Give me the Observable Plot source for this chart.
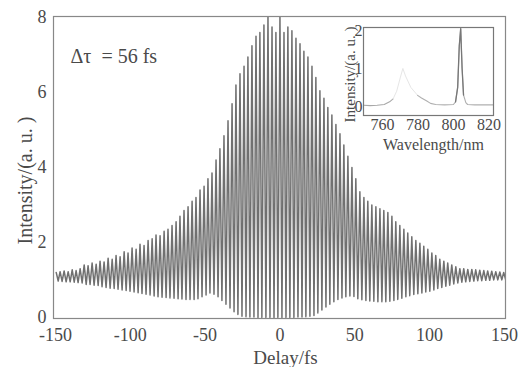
<!DOCTYPE html>
<html>
<head>
<meta charset="utf-8">
<script src="https://cdn.jsdelivr.net/npm/d3@7"></script>
<script src="https://cdn.jsdelivr.net/npm/@observablehq/plot@0.6"></script>
<style>
  body { margin: 0; background: #fff; }
  #wrap { position: relative; width: 525px; height: 367px; }
  #inset { position: absolute; left: 335px; top: 8px; }
</style>
</head>
<body>
<div id="wrap"><div id="main"></div><div id="inset"></div></div>
<script>
// ---- main trace: fringe peak delays (fs), peak (upper) and trough (lower) intensities
const fringeDelay = [-149.5,-146.9,-144.2,-141.5,-138.8,-136.2,-133.5,-130.8,-128.2,-125.5,-122.8,-120.2,-117.5,-114.8,-112.1,-109.5,-106.8,-104.1,-101.5,-98.8,-96.1,-93.5,-90.8,-88.1,-85.4,-82.8,-80.1,-77.4,-74.8,-72.1,-69.4,-66.8,-64.1,-61.4,-58.7,-56.1,-53.4,-50.7,-48.1,-45.4,-42.7,-40.1,-37.4,-34.7,-32.0,-29.4,-26.7,-24.0,-21.4,-18.7,-16.0,-13.4,-10.7,-8.0,-5.3,-2.7,
  0,
  2.7,5.3,8.0,10.7,13.4,16.0,18.7,21.4,24.0,26.7,29.4,32.0,34.7,37.4,40.1,42.7,45.4,48.1,50.7,53.4,56.1,58.7,61.4,64.1,66.8,69.4,72.1,74.8,77.4,80.1,82.8,85.4,88.1,90.8,93.5,96.1,98.8,101.5,104.1,106.8,109.5,112.1,114.8,117.5,120.2,122.8,125.5,128.2,130.8,133.5,136.2,138.8,141.5,144.2,146.9,149.5];
const fringeUpper = [1.20,1.22,1.24,1.22,1.27,1.25,1.30,1.40,1.38,1.45,1.42,1.50,1.48,1.58,1.55,1.65,1.62,1.75,1.72,1.85,1.82,1.95,1.92,2.05,2.10,2.20,2.18,2.30,2.35,2.45,2.55,2.70,2.85,2.95,3.10,3.20,3.40,3.50,3.70,3.85,4.20,4.50,4.85,5.25,5.70,6.20,6.50,6.70,6.95,7.25,7.50,7.60,7.80,8.05,7.75,7.60,
  8.05,
  7.60,7.75,7.65,7.45,7.30,7.10,6.95,6.70,6.40,6.05,5.85,5.60,5.40,5.15,4.90,4.60,4.30,4.00,3.70,3.35,3.20,3.10,3.00,2.95,2.90,2.85,2.80,2.70,2.55,2.45,2.35,2.25,2.15,2.05,1.98,1.90,1.82,1.72,1.65,1.55,1.50,1.45,1.40,1.35,1.30,1.30,1.28,1.28,1.27,1.26,1.25,1.24,1.23,1.22,1.21,1.20];
const fringeLower = [0.97,0.96,0.95,0.95,0.94,0.93,0.92,
  0.88,0.88,0.86,0.85,0.82,0.80,0.78,0.77,0.75,0.73,0.72,0.70,
  0.68,0.66,0.64,0.62,0.60,0.57,0.55,0.54,0.53,0.52,0.51,0.50,0.49,0.48,
  0.48,0.48,0.50,0.55,0.60,0.65,0.62,0.55,0.45,0.35,0.25,0.15,0.08,0.03,
  0.02,0.01,0.01,0,0,0,0,0,0,0,0,0,0,0.01,0.01,0.02,0.03,
  0.05,0.12,0.20,0.28,0.35,0.42,0.48,0.52,0.55,0.57,
  0.56,0.50,0.47,0.45,0.44,0.43,0.42,0.42,0.42,0.43,
  0.45,0.48,0.51,0.55,0.58,0.61,0.63,0.65,0.68,0.70,
  0.73,0.77,0.80,0.83,0.86,0.89,0.92,0.94,0.95,0.96,
  0.97,0.98,0.98,0.99,0.99,1.00,1.00,1.00,1.00];
const halfPeriod = 1.335; // fs, trough follows each peak by half a fringe
const xTicks = [-150,-100,-50,0,50,100,150];
const yTicks = [0,2,4,6,8];
const annotation = "\u0394\u03c4  = 56 fs";
const xLabel = "Delay/fs";
const yLabel = "Intensity/(a. u. )";

// ---- inset spectrum
const specWl = [749.5,753,757,761,764,766,768,770,771.5,773,776,779.8,782,785,787.1,790,795,800,801.2,802.4,803.3,804.1,804.9,805.7,807,808,812,816,820,822.5];
const specI  = [0.03,0.02,0.03,0.05,0.12,0.20,0.40,0.75,1.00,0.80,0.50,0.29,0.22,0.14,0.08,0.05,0.04,0.05,0.12,0.50,1.60,2.05,1.00,0.30,0.10,0.05,0.04,0.04,0.04,0.04];
const insetXTicks = [760,780,800,820];
const insetYTicks = [0,1,2];
const insetXLabel = "Wavelength/nm";
const insetYLabel = "Intensity/(a. u. )";

const trace = [];
fringeDelay.forEach((t, i) => {
  trace.push({t, v: fringeUpper[i]});
  trace.push({t: t + halfPeriod, v: fringeLower[i]});
});

const serif = "'Liberation Serif', 'DejaVu Serif', serif";
const ink = "#4a4a4a";

const main = Plot.plot({
  width: 525, height: 367,
  marginLeft: 53, marginRight: 20, marginTop: 16, marginBottom: 49,
  style: {fontFamily: serif, fontSize: "18px", color: ink, background: "transparent", overflow: "visible"},
  x: {domain: [-151.3, 150.7]},
  y: {domain: [-0.03, 8.03]},
  marks: [
    Plot.line(trace, {x: "t", y: "v", stroke: "#707070", strokeWidth: 1.5, clip: true}),
    Plot.frame({stroke: "#888", strokeWidth: 1.2}),
    Plot.axisX({ticks: xTicks, tickSize: 0, tickPadding: 10, tickFormat: d => String(d), label: null}),
    Plot.axisY({ticks: yTicks, tickSize: 0, tickPadding: 7, tickFormat: d => String(d), label: null}),
    Plot.text([xLabel], {frameAnchor: "bottom", textAnchor: "middle", lineAnchor: "middle", dx: 6, dy: 39, fontSize: 19, fill: ink}),
    Plot.text([yLabel], {frameAnchor: "left", textAnchor: "middle", lineAnchor: "middle", dx: -28, dy: 13, rotate: -90, fontSize: 20, fill: ink}),
    Plot.text([annotation], {frameAnchor: "top-left", textAnchor: "start", lineAnchor: "middle", dx: 17, dy: 40, fontSize: 20, fill: ink})
  ]
});
document.getElementById("main").appendChild(main);

const spec = specWl.map((w, i) => ({w, i: specI[i]}));
const inset = Plot.plot({
  width: 175, height: 145,
  marginLeft: 28, marginRight: 17, marginTop: 19, marginBottom: 38,
  style: {fontFamily: serif, fontSize: "16px", color: ink, background: "transparent", overflow: "visible"},
  x: {domain: [749.3, 822.6]},
  y: {domain: [-0.24, 2.08]},
  marks: [
    Plot.line(spec.filter(d => d.w <= 766), {x: "w", y: "i", stroke: "#a8a8a8", strokeWidth: 1.1}),
    Plot.line(spec.filter(d => d.w >= 766 && d.w <= 779.8), {x: "w", y: "i", stroke: "#e6e6e6", strokeWidth: 1}),
    Plot.line(spec.filter(d => d.w >= 779.8), {x: "w", y: "i", stroke: "#b0b0b0", strokeWidth: 1.1}),
    Plot.line(spec.filter(d => d.w >= 801.2 && d.w <= 805.7), {x: "w", y: "i", stroke: "#777", strokeWidth: 1.3}),
    Plot.frame({stroke: "#777", strokeWidth: 1.2}),
    Plot.axisX({ticks: insetXTicks, tickSize: 0, tickPadding: 3, tickFormat: d => String(d), label: null}),
    Plot.axisY({ticks: insetYTicks, tickSize: 0, tickPadding: 1, tickFormat: d => String(d), label: null}),
    Plot.text([insetXLabel], {frameAnchor: "bottom", textAnchor: "middle", lineAnchor: "middle", dx: 5, dy: 29, fontSize: 16, fill: ink}),
    Plot.text([insetYLabel], {frameAnchor: "left", textAnchor: "middle", lineAnchor: "middle", dx: -13, dy: 3, rotate: -90, fontSize: 15, fill: ink})
  ]
});
document.getElementById("inset").appendChild(inset);
</script>
</body>
</html>
